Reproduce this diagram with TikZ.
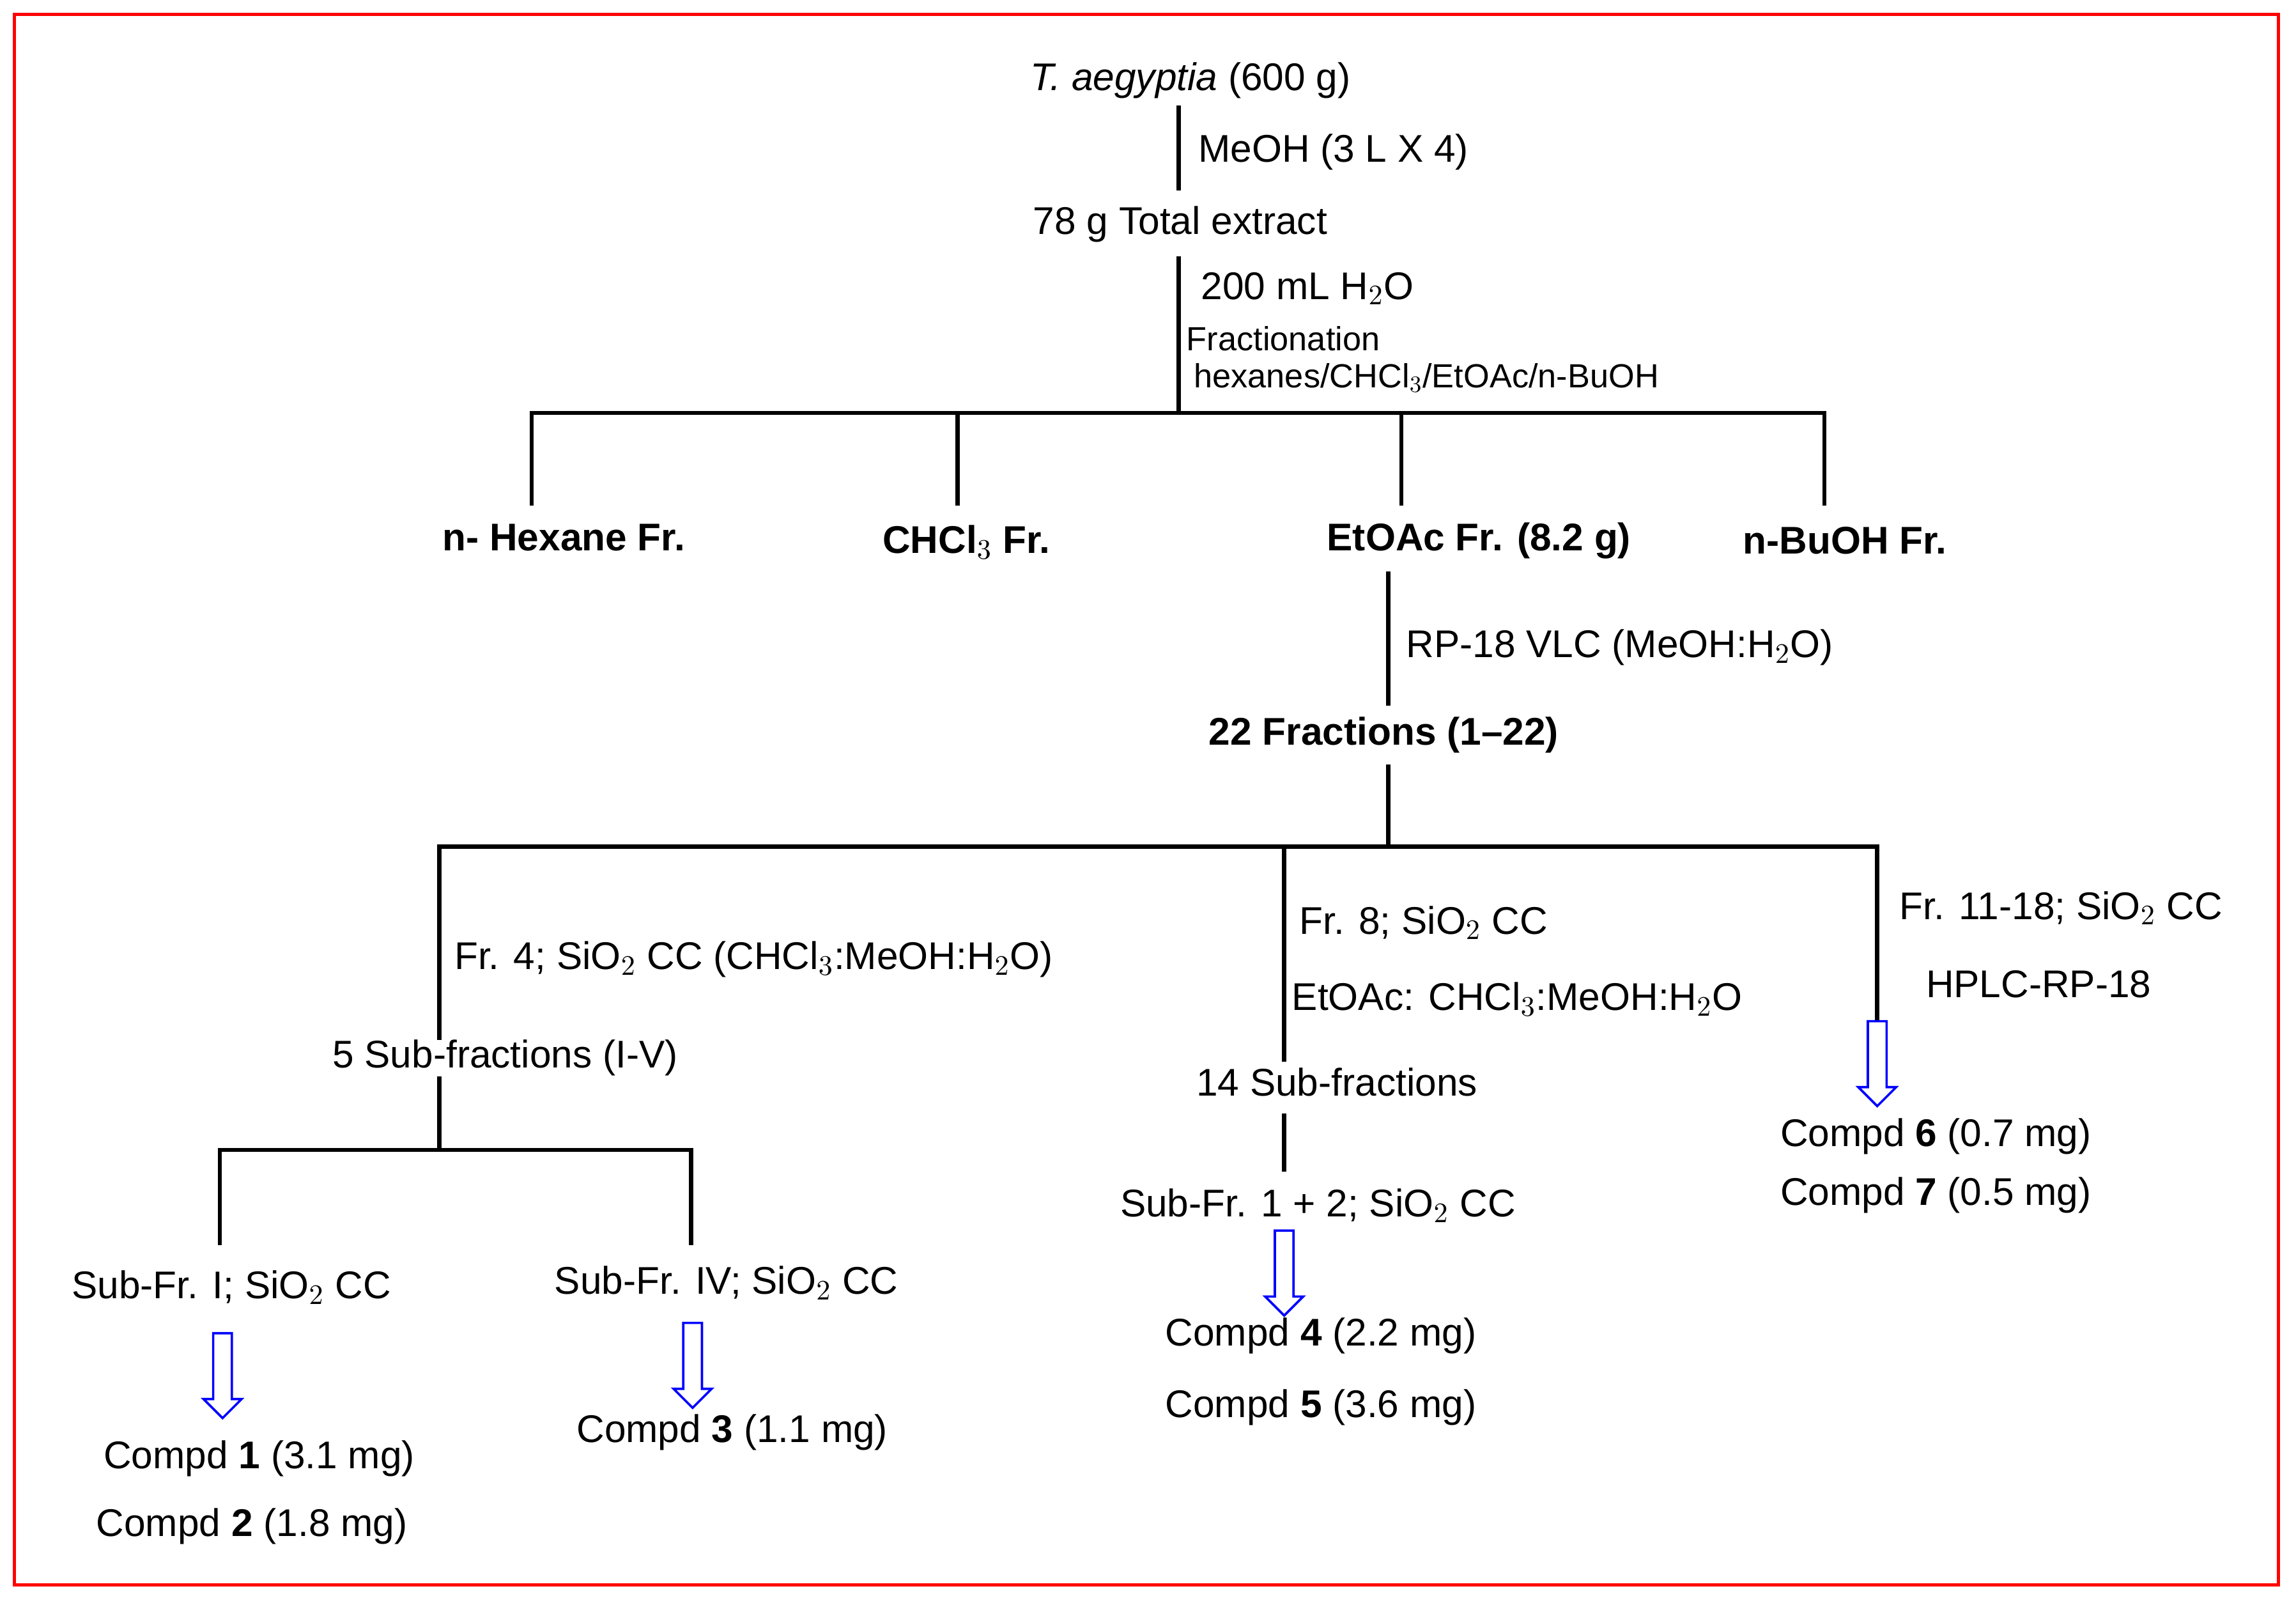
\documentclass[tikz,border=0pt]{standalone}
\usepackage{fontspec}
\setmainfont{Liberation Sans}
\usetikzlibrary{shapes.arrows}
\begin{document}
\begin{tikzpicture}[x=0.02cm, y=-0.02cm,
    every node/.style={inner sep=0pt, font=\fontsize{15}{18}\selectfont},
    lbl/.style={anchor=west},
    small/.style={anchor=west, font=\fontsize{13}{16}\selectfont},
    hd/.style={font=\fontsize{15}{18}\selectfont\bfseries},
    line/.style={line width=1.6pt},
    hollow/.style={single arrow, draw=blue, fill=white, line width=0.9pt,
        minimum width=0.52cm, single arrow head extend=0.12cm,
        minimum height=1.16cm, shape border rotate=270, inner sep=0.1cm}]
    % Frame
    \useasboundingbox (0,0) rectangle (1568,1091);
    \draw[red, line width=1.2pt] (10,10) rectangle (1556,1082);

    % Nodes
    \node (plant) at (813,55) {\textit{T. aegyptia} (600 g)};
    \node (total) at (806,153) {78 g Total extract};
    \node[lbl] at (818,104) {MeOH (3 L X 4)};
    \node[lbl] at (820,197) {200 mL H$_2$O};
    \node[small] at (810,231) {Fractionation};
    \node[small] at (815,258) {hexanes/CHCl$_3$/EtOAc/n-BuOH};
    \node[hd] (hex) at (385,367) {n- Hexane Fr.};
    \node[hd] (chl) at (660,370) {CHCl$_3$ Fr.};
    \node[hd] (etoac) at (1010,369) {EtOAc Fr. (8.2 g)};
    \node[hd] (buoh) at (1260,369) {n-BuOH Fr.};
    \node[lbl] at (960,442) {RP-18 VLC (MeOH:H$_2$O)};
    \node[hd] (fr22) at (945,502) {22 Fractions (1--22)};
    \node[lbl] at (310,655) {Fr. 4; SiO$_2$ CC (CHCl$_3$:MeOH:H$_2$O)};
    \node (sub5) at (345,722) {5 Sub-fractions (I-V)};
    \node[lbl] at (887,630) {Fr. 8; SiO$_2$ CC};
    \node[lbl] at (882,682) {EtOAc: CHCl$_3$:MeOH:H$_2$O};
    \node (sub14) at (913,739) {14 Sub-fractions};
    \node[lbl] at (1297,620) {Fr. 11-18; SiO$_2$ CC};
    \node[lbl] at (1315,672) {HPLC-RP-18};
    \node (subI) at (158,879) {Sub-Fr. I; SiO$_2$ CC};
    \node (subIV) at (496,876) {Sub-Fr. IV; SiO$_2$ CC};
    \node (sub12) at (900,823) {Sub-Fr. 1 + 2; SiO$_2$ CC};
    \node (c1) at (177,996) {Compd \textbf{1} (3.1 mg)};
    \node at (172,1042) {Compd \textbf{2} (1.8 mg)};
    \node (c3) at (500,978) {Compd \textbf{3} (1.1 mg)};
    \node (c4) at (902,912) {Compd \textbf{4} (2.2 mg)};
    \node at (902,961) {Compd \textbf{5} (3.6 mg)};
    \node (c6) at (1322,776) {Compd \textbf{6} (0.7 mg)};
    \node at (1322,816) {Compd \textbf{7} (0.5 mg)};

    % Arrows
    \node[hollow] (a1) at (152,936) {};
    \node[hollow] (a3) at (473,929) {};
    \node[hollow] (a4) at (877,866) {};
    \node[hollow] (a6) at (1282,723) {};

    % Junctions
    \coordinate (j1) at (805,282);
    \coordinate (j2) at (948,578);
    \coordinate (j3) at (300,785);

    % Lines
    \draw[line] (805,72) -- (805,130);
    \draw[line] (805,175) -- (j1);
    \draw[line] (363,345) -- (363,282) -- (1246,282) -- (1246,345);
    \draw[line] (654,282) -- (654,345);
    \draw[line] (957,282) -- (957,345);
    \draw[line] (948,390) -- (948,482);
    \draw[line] (948,522) -- (j2);
    \draw[line] (300,710) -- (300,578) -- (1282,578) -- (a6.tail);
    \draw[line] (877,578) -- (877,725);
    \draw[line] (300,735) -- (j3);
    \draw[line] (150,850) -- (150,785) -- (472,785) -- (472,850);
    \draw[line] (877,760) -- (877,800);
\end{tikzpicture}
\end{document}
